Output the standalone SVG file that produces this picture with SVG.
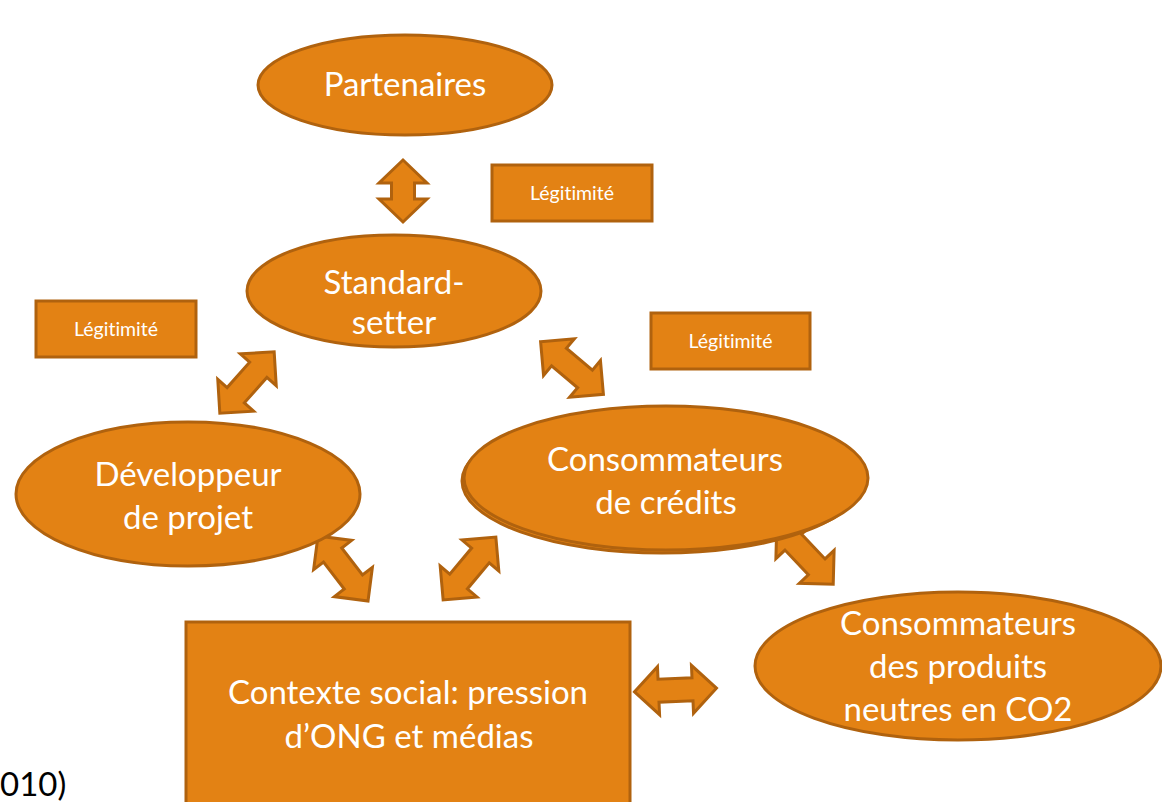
<svg xmlns="http://www.w3.org/2000/svg" width="1162" height="802" viewBox="0 0 1162 802">
<defs>
<style>
.shape{fill:#E38214;stroke:#B0620E;stroke-width:3}
.arrow{fill:#E38214;stroke:#B0620E;stroke-width:3;stroke-linejoin:miter}
text{font-variant-ligatures:none}
.t{font-family:Lato,"Open Sans","Liberation Sans",sans-serif;fill:#ffffff;text-anchor:middle;font-size:33px}
.s{font-family:Lato,"Open Sans","Liberation Sans",sans-serif;fill:#ffffff;text-anchor:middle;font-size:19.5px}
.k{font-family:Lato,"Open Sans","Liberation Sans",sans-serif;fill:#000000;font-size:33px}
</style>
<polygon id="dbl" points="-41,0 -17,-24 -17,-11.5 17,-11.5 17,-24 41,0 17,24 17,11.5 -17,11.5 -17,24"/>
<polygon id="dblv" points="-31,0 -8,-24 -8,-11.5 8,-11.5 8,-24 31,0 8,24 8,11.5 -8,11.5 -8,24"/>
</defs>
<rect width="1162" height="802" fill="#ffffff"/>
<text class="k" x="0" y="796">010)</text>
<g id="connectors">
<use href="#dblv" class="arrow" transform="translate(403,191) rotate(90)"/>
<use href="#dbl" class="arrow" transform="translate(247,382.5) rotate(-48.5)"/>
<use href="#dbl" class="arrow" transform="translate(572,368) rotate(40)"/>
<use href="#dbl" class="arrow" transform="translate(343,568.5) rotate(52.4)"/>
<use href="#dbl" class="arrow" transform="translate(469.5,568.5) rotate(-50)"/>
<use href="#dbl" class="arrow" transform="translate(805,554.5) rotate(46.5)"/>
<use href="#dbl" class="arrow" transform="translate(675.5,690) rotate(-2.5)"/>
</g>
<g id="partenaires">
<ellipse class="shape" cx="405" cy="85" rx="147" ry="50"/>
<text class="t" x="405" y="96">Partenaires</text>
</g>
<g id="legitimite1">
<rect class="shape" x="492" y="165" width="160" height="56"/>
<text class="s" x="572" y="200">Légitimité</text>
</g>
<g id="standard-setter">
<ellipse class="shape" cx="394" cy="291" rx="147" ry="56"/>
<text class="t" x="394" y="294">Standard-</text>
<text class="t" x="394" y="334">setter</text>
</g>
<g id="legitimite2">
<rect class="shape" x="36" y="301" width="160" height="56"/>
<text class="s" x="116" y="336">Légitimité</text>
</g>
<g id="legitimite3">
<rect class="shape" x="651" y="313" width="159" height="56"/>
<text class="s" x="730.5" y="348">Légitimité</text>
</g>
<g id="developpeur">
<ellipse class="shape" cx="188" cy="494" rx="172" ry="72"/>
<text class="t" x="188" y="486">Développeur</text>
<text class="t" x="188" y="529">de projet</text>
</g>
<g id="consommateurs-credits">
<ellipse class="shape" cx="662" cy="481" rx="200" ry="72"/>
<ellipse class="shape" cx="666" cy="478" rx="202" ry="72"/>
<text class="t" x="665" y="471">Consommateurs</text>
<text class="t" x="666" y="514">de crédits</text>
</g>
<g id="consommateurs-produits">
<ellipse class="shape" cx="958" cy="666" rx="203" ry="74"/>
<text class="t" x="958" y="635">Consommateurs</text>
<text class="t" x="958" y="678">des produits</text>
<text class="t" x="958" y="721">neutres en CO2</text>
</g>
<g id="contexte-social">
<rect class="shape" x="186" y="622" width="444" height="200"/>
<text class="t" x="408" y="704">Contexte social: pression</text>
<text class="t" x="409" y="748">d’ONG et médias</text>
</g>
</svg>
